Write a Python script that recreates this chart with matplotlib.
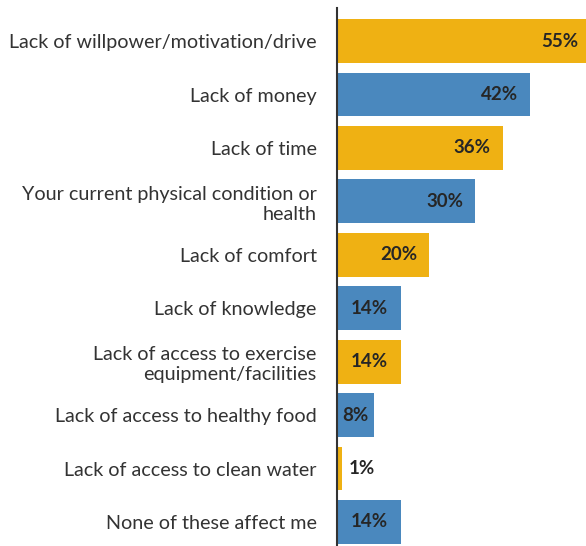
import matplotlib
matplotlib.use("Agg")
import matplotlib.pyplot as plt

labels = [
    "Lack of willpower/motivation/drive",
    "Lack of money",
    "Lack of time",
    "Your current physical condition or\nhealth",
    "Lack of comfort",
    "Lack of knowledge",
    "Lack of access to exercise\nequipment/facilities",
    "Lack of access to healthy food",
    "Lack of access to clean water",
    "None of these affect me",
]
values = [55, 42, 36, 30, 20, 14, 14, 8, 1, 14]

YELLOW = "#EFB113"
BLUE = "#4A88BE"
colors = [YELLOW if i % 2 == 0 else BLUE for i in range(len(values))]

plt.rcParams["font.family"] = ["Lato", "DejaVu Sans"]

fig = plt.figure(figsize=(5.86, 5.46), dpi=100)
ax = fig.add_axes([337 / 586, 0, 1 - 337 / 586, 1 - 8 / 546])

pos = list(range(len(values)))
ax.barh(pos, values, height=0.82, color=colors, zorder=1)

ax.set_xlim(0, 54.1)
ax.set_ylim(9.45, -0.62)

for y, v in zip(pos, values):
    txt = "%d%%" % v
    kw = dict(fontsize=13.5, fontweight="bold", color="#262626", va="center")
    if v >= 20:
        ax.text(v - 2.6, y, txt, ha="right", **kw)
    elif v >= 5:
        ax.text(v / 2, y, txt, ha="center", **kw)
    else:
        ax.text(v + 1.5, y, txt, ha="left", **kw)

ax.set_yticks(pos)
ax.set_yticklabels(labels, fontsize=14.2, color="#333333", linespacing=1.22)
ax.tick_params(axis="y", length=0, pad=14.5)
ax.set_xticks([])

for s in ["top", "right", "bottom"]:
    ax.spines[s].set_visible(False)
ax.spines["left"].set_color("#333333")
ax.spines["left"].set_linewidth(1.5)
ax.spines["left"].set_zorder(3)

fig.savefig("out.png", dpi=100)
